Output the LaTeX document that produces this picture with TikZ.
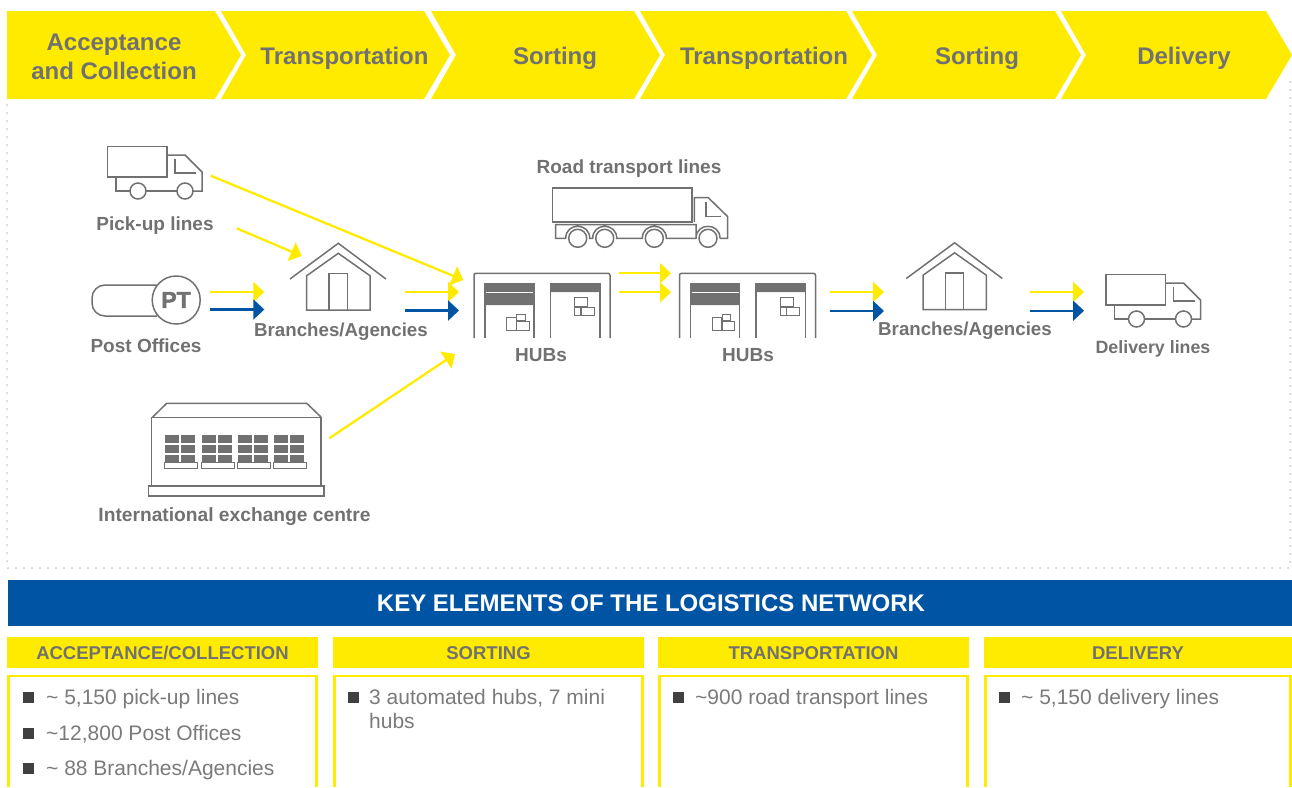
\documentclass[tikz,border=0pt]{standalone}
\usepackage{fontspec}
\setmainfont{Liberation Sans}
\usetikzlibrary{arrows.meta}

\definecolor{postyellow}{HTML}{FFEB00}
\definecolor{postblue}{HTML}{0054A4}
\definecolor{icongray}{HTML}{717171}
\definecolor{itemgray}{HTML}{7A7A7A}

\tikzset{
  icon/.style={inner sep=0pt,outer sep=0pt},
  stagelabel/.style={text=icongray,font=\fontsize{24}{29}\selectfont\bfseries,align=center},
  netlabel/.style={text=icongray,font=\fontsize{19}{22}\selectfont\bfseries},
  coltitle/.style={text=icongray,font=\fontsize{18.5}{22}\selectfont\bfseries,anchor=base},
  itemtext/.style={text=itemgray,font=\fontsize{21}{24}\selectfont,anchor=base west,inner sep=0pt},
  bulletmark/.style={fill=black!75,draw=none,minimum size=11pt,inner sep=0pt},
  yflow/.style={draw=postyellow,line width=2.3pt,-{Triangle[length=11pt,width=20pt]}},
  bflow/.style={draw=postblue,line width=2.3pt,-{Triangle[length=11pt,width=20pt]}},
  framedots/.style={draw=black!22,line width=2pt,line cap=round,dash pattern=on 0pt off 8pt},
  line/.style={draw=icongray,line width=1.5pt},
  smalltruck/.pic={
    \draw[line] (0.5,0.5) rectangle (60,31);
    \draw[line] (60,9)--(78,9)--(95,26)--(95,45)--(86,45);
    \draw[line] (68,13)--(68,27)--(89,27);
    \draw[line] (9,31)--(9,45)--(23,45) (39,45)--(70,45);
    \draw[line] (31,45) circle (8) (78,45) circle (8);
  },
  bigtruck/.pic={
    \draw[line] (0.5,0) rectangle (140,34);
    \draw[line] (142.3,34)--(142.3,9.7)--(156.3,9.7)--(175.7,28.7)--(175.7,50.3)--(168,50.3);
    \draw[line] (154,13.7)--(154,28.7)--(168.7,28.7);
    \draw[line] (144,50.3)--(144,36.7)--(3.7,36.7)--(3.7,50.3)--(13.7,50.3)
      .. controls (13.7,34.3) and (37.7,34.3) .. (37.7,50.3)--(40.7,50.3)
      .. controls (40.7,34.3) and (64.7,34.3) .. (64.7,50.3)--(90.3,50.3)
      .. controls (90.3,34.3) and (114.3,34.3) .. (114.3,50.3)--(144,50.3)
      .. controls (144,34.3) and (168,34.3) .. (168,50.3);
    \foreach \wx in {25.7,52.7,102.3,156}
      \draw[line] (\wx,50.3) circle (9);
  },
  branchhouse/.pic={
    \draw[line] (0,36)--(48.3,0.3)--(96,36);
    \draw[line] (16.7,67)--(16.7,32.7)--(48.3,10.3)--(80,32.7)--(80,67)--cycle;
    \draw[line] (39,67)--(39,30.3)--(57.3,30.3)--(57.3,67);
  },
  hubshed/.pic={
    \draw[line,rounded corners=2pt] (0,65)--(0,0.3)--(136,0.3)--(136,65);
    \draw[line] (11,65)--(11,10.3)--(60,10.3)--(60,65);
    \draw[line] (76.7,65)--(76.7,10.3)--(126,10.3)--(126,65);
    \fill[icongray] (11,10.3) rectangle (60,32) (76.7,10.3) rectangle (126,19);
    \draw[white,line width=0.8pt] (12,19.3)--(59,19.3);
    \draw[line,line width=1pt] (32.7,44.7) rectangle (42,57) (42.7,48.7) rectangle (55.3,57)
      (42.7,41.3) rectangle (51.3,47.7);
    \draw[line,line width=1pt] (100.7,24.7) rectangle (113.7,33) (100.7,34.7) rectangle (106.7,42.7)
      (107.3,34.7) rectangle (120.3,42.7);
  },
  postpill/.pic={
    \draw[line,rounded corners=13pt] (65,9)--(0,9)--(0,40)--(65,40);
    \draw[line] (84.2,24) circle (24);
  },
  exchangehall/.pic={
    \draw[line] (3.7,14.7) rectangle (173,83);
    \draw[line] (4.7,14)--(18.7,0.3)--(158.7,0.3)--(173,14);
    \draw[line] (0.3,83) rectangle (176,93);
    \foreach \gx in {17,54.3,90.3,126} {
      \foreach \rowa/\rowb in {32/40.3,42/50.3,52/59.3} {
        \fill[icongray] (\gx,\rowa) rectangle +(14,\rowb-\rowa);
        \fill[icongray] (\gx+16,\rowa) rectangle +(14,\rowb-\rowa);
      }
      \draw[line,fill=white,line width=1pt] (\gx-1,59.7) rectangle +(33,6);
    }
  }
}

\begin{document}
\begin{tikzpicture}[x=1pt,y=-1pt]
\useasboundingbox (0,0) rectangle (1292,787);

% stages
\fill[postyellow] (7,11)--(215,11)--(241,55)--(215,99)--(7,99)--cycle;
\foreach \sx/\ex in {221/424,431/634,640/846,852/1055,1061/1266}
  \fill[postyellow] (\sx,11)--(\ex,11)--(\ex+26,55)--(\ex,99)--(\sx,99)--(\sx+25,55)--cycle;

\node[stagelabel] (stage1) at (114,57) {Acceptance\\and Collection};
\node[stagelabel] (stage2) at (344.5,58) {Transportation};
\node[stagelabel] (stage3) at (555,58) {Sorting};
\node[stagelabel] (stage4) at (764,58) {Transportation};
\node[stagelabel] (stage5) at (977,58) {Sorting};
\node[stagelabel] (stage6) at (1184,58) {Delivery};

\draw[framedots] (7,105)--(7,568)--(1290,568)--(1290,77);

% icons
\node[icon,minimum width=95pt,minimum height=53pt] (pickup) at (154.5,172.5) {};
\node[icon,minimum width=109pt,minimum height=48pt] (post) at (146.5,300) {};
\node[icon,minimum width=96pt,minimum height=67pt] (branchA) at (338,276.5) {};
\node[icon,minimum width=136pt,minimum height=65pt] (hubA) at (542,305.5) {};
\node[icon,minimum width=136pt,minimum height=65pt] (hubB) at (747.5,305.5) {};
\node[icon,minimum width=96pt,minimum height=67pt] (branchB) at (954.3,276) {};
\node[icon,minimum width=95pt,minimum height=53pt] (delivery) at (1153,300.5) {};
\node[icon,minimum width=176pt,minimum height=60pt] (road) at (640,218) {};
\node[icon,minimum width=176pt,minimum height=93pt] (exchange) at (236,449.5) {};

\pic at (pickup.north west) {smalltruck};
\pic at (delivery.north west) {smalltruck};
\pic at (road.north west) {bigtruck};
\pic at (post.north west) {postpill};
\pic at (branchA.north west) {branchhouse};
\pic at (branchB.north west) {branchhouse};
\pic at (hubA.north west) {hubshed};
\pic at (hubB.north west) {hubshed};
\pic at (exchange.north west) {exchangehall};
\node[text=icongray,font=\fontsize{23}{24}\selectfont\bfseries\addfontfeature{FakeBold=2}] (ptmark) at (176,300) {PT};

\node[netlabel] (pickuptext) at (155,226) {Pick-up lines};
\node[netlabel] (posttext) at (146,346) {Post Offices};
\node[netlabel,font=\fontsize{18.7}{22}\selectfont\bfseries] (branchAtext) at (341,332) {Branches/Agencies};
\node[netlabel] (hubAtext) at (541,355) {HUBs};
\node[netlabel] (hubBtext) at (748,355) {HUBs};
\node[netlabel,font=\fontsize{18.7}{22}\selectfont\bfseries] (branchBtext) at (965,331) {Branches/Agencies};
\node[netlabel,font=\fontsize{17.8}{22}\selectfont\bfseries] (deliverytext) at (1153,349) {Delivery lines};
\node[netlabel] (roadtext) at (629,169) {Road transport lines};
\node[netlabel,font=\fontsize{19.2}{22}\selectfont\bfseries] (exchangetext) at (234.5,517) {International exchange centre};

% flows
\draw[yflow] ([xshift=8.7pt,yshift=-3.2pt]pickup.east) -- ([xshift=-10.7pt,yshift=25.5pt]hubA.west);
\draw[yflow] ([xshift=34.7pt,yshift=-29.3pt]pickup.south east) -- ([xshift=11.7pt,yshift=-13pt]branchA.north west);
\draw[yflow] ([xshift=9pt,yshift=8pt]post.east) -- ([xshift=-25.7pt,yshift=-15.5pt]branchA.west);
\draw[bflow] ([xshift=9pt,yshift=-9.5pt]post.east) -- ([xshift=-25.7pt,yshift=-33pt]branchA.west);
\draw[yflow] ([xshift=19pt,yshift=-15.5pt]branchA.east) -- ([xshift=-15pt,yshift=13.5pt]hubA.west);
\draw[bflow] ([xshift=19pt,yshift=-34pt]branchA.east) -- ([xshift=-15pt,yshift=-5pt]hubA.west);
\draw[yflow] ([xshift=5.3pt,yshift=11.2pt]exchange.east) -- ([xshift=-19pt,yshift=-48.5pt]hubA.west);
\draw[yflow] ([xshift=9pt,yshift=32.2pt]hubA.east) -- ([xshift=-8.5pt,yshift=32.2pt]hubB.west);
\draw[yflow] ([xshift=9pt,yshift=13.2pt]hubA.east) -- ([xshift=-8.5pt,yshift=13.2pt]hubB.west);
\draw[yflow] ([xshift=14.5pt,yshift=13.5pt]hubB.east) -- ([xshift=-22.3pt,yshift=-16pt]branchB.west);
\draw[bflow] ([xshift=14.5pt,yshift=-5.5pt]hubB.east) -- ([xshift=-22.3pt,yshift=-35pt]branchB.west);
\draw[yflow] ([xshift=27.7pt,yshift=-16pt]branchB.east) -- ([xshift=-21.5pt,yshift=8.5pt]delivery.west);
\draw[bflow] ([xshift=27.7pt,yshift=-34.7pt]branchB.east) -- ([xshift=-21.5pt,yshift=-10.2pt]delivery.west);

% key elements
\fill[postblue] (8,580) rectangle (1292,626);
\node[text=white,font=\fontsize{24}{28}\selectfont\bfseries] (keytitle) at (651,603) {KEY ELEMENTS OF THE LOGISTICS NETWORK};

\foreach \cx/\cw/\ctext/\cname in {7/311/{ACCEPTANCE/COLLECTION}/colA,333/311/SORTING/colB,658/311/TRANSPORTATION/colC,984/308/DELIVERY/colD} {
  \fill[postyellow] (\cx,637) rectangle +(\cw,31);
  \draw[postyellow,line width=2.5pt] (\cx+1.5,787)--(\cx+1.5,676)--(\cx+\cw-1.5,676)--(\cx+\cw-1.5,787);
  \node[coltitle] (\cname) at (\cx+\cw/2,659.5) {\ctext};
}

\foreach \bx/\by/\bname in {28.5/697/itemA,28.5/733/itemB,28.5/768/itemC,353.5/697/itemD,678.5/697/itemE,1004.5/697/itemF}
  \node[bulletmark] (\bname) at (\bx,\by) {};

\node[itemtext] (lineA) at (46,704) {\textasciitilde{} 5,150 pick-up lines};
\node[itemtext] (lineB) at (46,740) {\textasciitilde{}12,800 Post Offices};
\node[itemtext] (lineC) at (46,775) {\textasciitilde{} 88 Branches/Agencies};
\node[itemtext] (lineD) at (369,704) {3 automated hubs, 7 mini};
\node[itemtext] (lineDb) at (369,728) {hubs};
\node[itemtext] (lineE) at (695,704) {\textasciitilde{}900 road transport lines};
\node[itemtext] (lineF) at (1021,704) {\textasciitilde{} 5,150 delivery lines};
\end{tikzpicture}
\end{document}
